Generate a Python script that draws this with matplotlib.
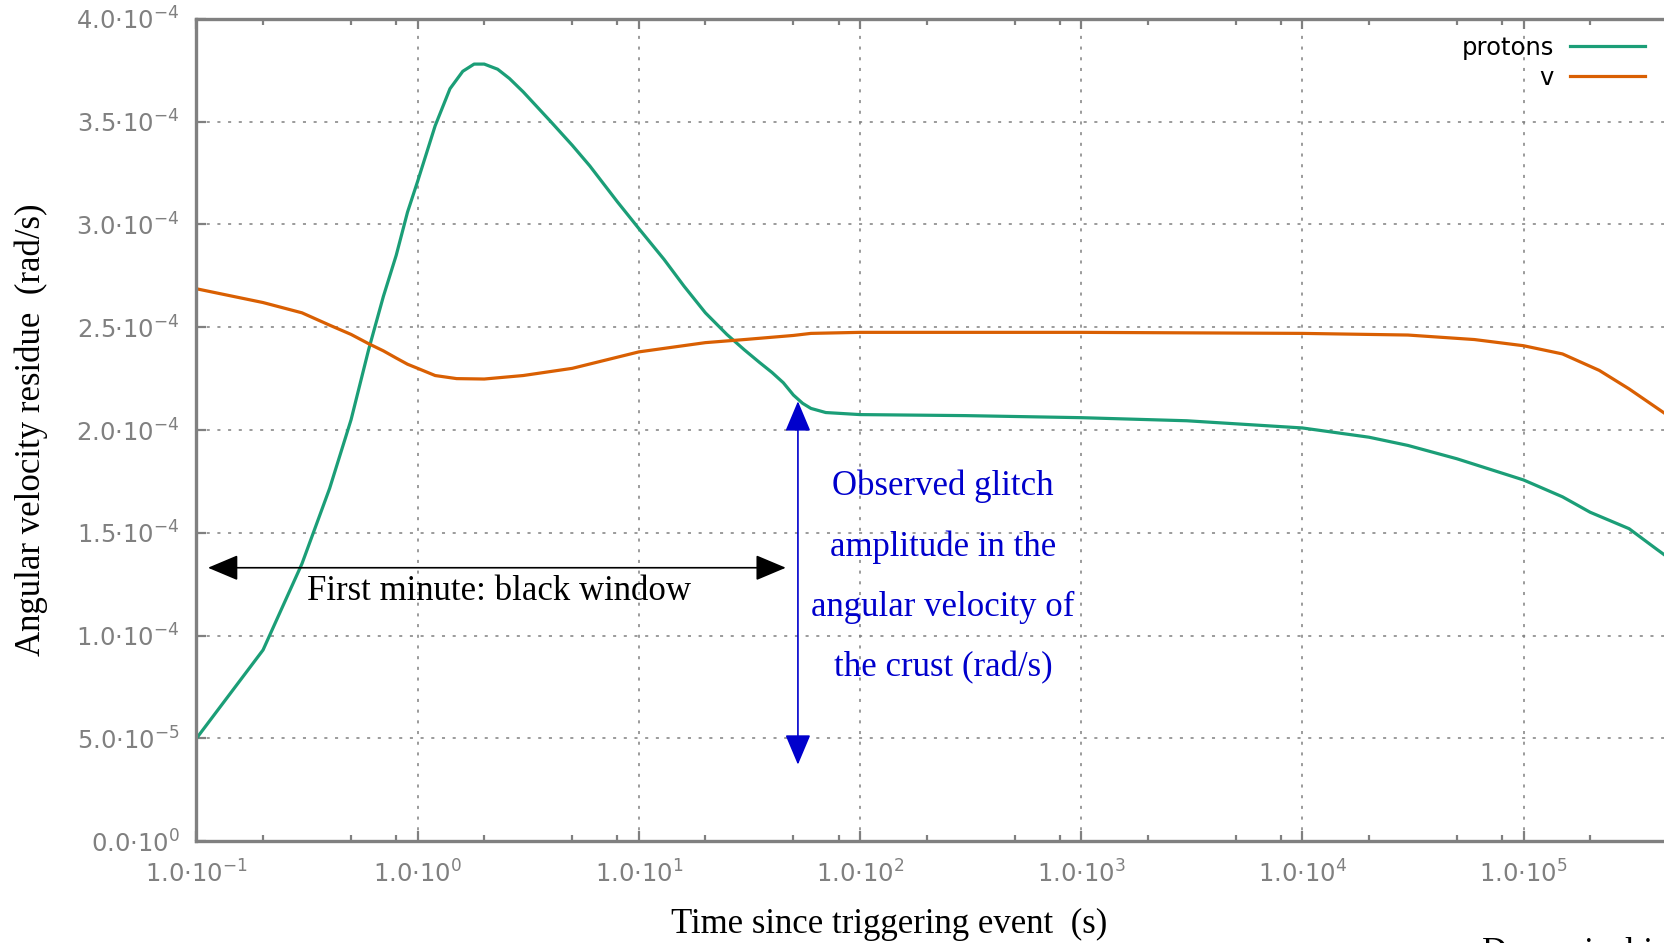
import numpy as np
import matplotlib
matplotlib.use("Agg")
from matplotlib import pyplot as plt
from matplotlib.ticker import LogLocator, MultipleLocator, FuncFormatter, NullFormatter

# time (s) and angular velocity residue (rad/s)
t_protons = [0.1, 0.2, 0.3, 0.4, 0.5, 0.6, 0.7, 0.8, 0.9, 1.0, 1.2, 1.4, 1.6, 1.8, 2.0,
             2.3, 2.6, 3, 4, 5, 6, 8, 10, 13, 16, 20, 25, 30, 35, 40, 45, 50, 55, 60,
             70, 100, 300, 1e3, 3e3, 1e4, 2e4, 3e4, 5e4, 1e5, 1.5e5, 2e5, 3e5, 4e5, 4.5e5]
w_protons = [0.50, 0.93, 1.35, 1.716, 2.05, 2.39, 2.65, 2.85, 3.06, 3.21, 3.48, 3.66, 3.745,
             3.78, 3.78, 3.755, 3.71, 3.645, 3.50, 3.385, 3.285, 3.11, 2.98, 2.83, 2.70,
             2.57, 2.465, 2.39, 2.33, 2.28, 2.23, 2.17, 2.13, 2.105, 2.085, 2.075, 2.07,
             2.06, 2.045, 2.01, 1.965, 1.925, 1.86, 1.757, 1.675, 1.60, 1.52, 1.42, 1.38]

t_v = [0.1, 0.2, 0.3, 0.4, 0.5, 0.6, 0.7, 0.8, 0.9, 1.0, 1.2, 1.5, 2, 3, 5, 10, 20, 30, 50,
       60, 100, 1e3, 1e4, 3e4, 6e4, 1e5, 1.5e5, 2.2e5, 3e5, 4.5e5]
w_v = [2.687, 2.62, 2.57, 2.51, 2.465, 2.42, 2.385, 2.35, 2.32, 2.30, 2.265, 2.25, 2.248,
       2.265, 2.30, 2.38, 2.425, 2.44, 2.46, 2.47, 2.475, 2.475, 2.47, 2.462, 2.44, 2.41,
       2.37, 2.29, 2.20, 2.07]

series_labels = ['protons', 'v']
series_colors = ['#1b9e77', '#d95f02']

window_t = [0.1127, 46.2]
window_w = 1.33e-4
glitch_t = 52.4
glitch_w = [2.14e-4, 0.372e-4]

serif = 'Liberation Serif'
gray = '#808080'

plt.rcParams['font.family'] = 'DejaVu Sans'
plt.rcParams['mathtext.fontset'] = 'dejavusans'

fig = plt.figure(figsize=(16.65, 9.43), dpi=100)
# the plot runs past the right edge of the picture, as in the original
ax = fig.add_axes([0.118, 0.108, 0.9238, 0.872])

l1, = ax.plot(t_protons, np.array(w_protons) * 1e-4, color=series_colors[0], lw=2.3,
              label=series_labels[0])
l2, = ax.plot(t_v, np.array(w_v) * 1e-4, color=series_colors[1], lw=2.3,
              label=series_labels[1])

ax.set_xscale('log')
ax.set_xlim(0.1, 9e5)
ax.set_ylim(0, 4e-4)

ax.xaxis.set_major_locator(LogLocator(base=10, numticks=20))
ax.xaxis.set_minor_locator(LogLocator(base=10, subs=[2, 5, 8], numticks=20))
ax.xaxis.set_minor_formatter(NullFormatter())
ax.yaxis.set_major_locator(MultipleLocator(0.5e-4))


def xfmt(v, pos):
    return '1.0·10$^{%d}$' % int(round(np.log10(v)))


def yfmt(v, pos):
    if v <= 1e-12:
        return '0.0·10$^{0}$'
    e = int(np.floor(np.log10(v) + 1e-9))
    return '%.1f·10$^{%d}$' % (v / 10 ** e, e)


ax.xaxis.set_major_formatter(FuncFormatter(xfmt))
ax.yaxis.set_major_formatter(FuncFormatter(yfmt))

for s in ax.spines.values():
    s.set_color(gray)
    s.set_linewidth(2.4)

ax.tick_params(which='both', direction='in', colors=gray, top=True, right=True,
               labelsize=17.5, labelcolor=gray)
ax.tick_params(which='major', length=7, width=1.6)
ax.tick_params(which='minor', length=4, width=1.6)
ax.tick_params(axis='x', pad=14)
ax.tick_params(axis='y', pad=12)

ax.set_axisbelow(True)
ax.grid(True, which='major', color=gray, linestyle=(0, (2, 5)), lw=1.1)

ax.annotate('', xy=(window_t[1], window_w), xytext=(window_t[0], window_w),
            arrowprops=dict(arrowstyle='<|-|>,head_length=0.95,head_width=0.4',
                            mutation_scale=20, color='black', lw=1.2,
                            shrinkA=0, shrinkB=0))
ax.text(0.316, 1.214e-4, 'First minute: black window', ha='left', va='center',
        family=serif, fontsize=25, color='black')

ax.annotate('', xy=(glitch_t, glitch_w[0]), xytext=(glitch_t, glitch_w[1]),
            arrowprops=dict(arrowstyle='<|-|>,head_length=0.95,head_width=0.4',
                            mutation_scale=20, color='#0000cc', lw=1.2,
                            shrinkA=0, shrinkB=0))
glitch_lines = ['Observed glitch', 'amplitude in the', 'angular velocity of',
                'the crust (rad/s)']
for i, txt in enumerate(glitch_lines):
    ax.text(237, (1.7255 - 0.2944 * i) * 1e-4, txt, ha='center', va='center',
            family=serif, fontsize=25, color='#0000cc')

ax.legend(handles=[l1, l2], loc='upper right', bbox_to_anchor=(0.988, 0.962),
          bbox_transform=fig.transFigure, frameon=False, markerfirst=False,
          fontsize=17.5, handlelength=3.1, handletextpad=0.65, borderpad=0,
          labelspacing=0.25, borderaxespad=0)

fig.text(0.534, 0.020, 'Time since triggering event  (s)', ha='center', va='center',
         family=serif, fontsize=25)
fig.text(0.019, 0.544, 'Angular velocity residue  (rad/s)', ha='center', va='center',
         rotation=90, family=serif, fontsize=25)
fig.text(0.890, 0.0064, 'Dynamical i', ha='left', va='top', family=serif, fontsize=25)

fig.savefig('out.png', dpi=100)
